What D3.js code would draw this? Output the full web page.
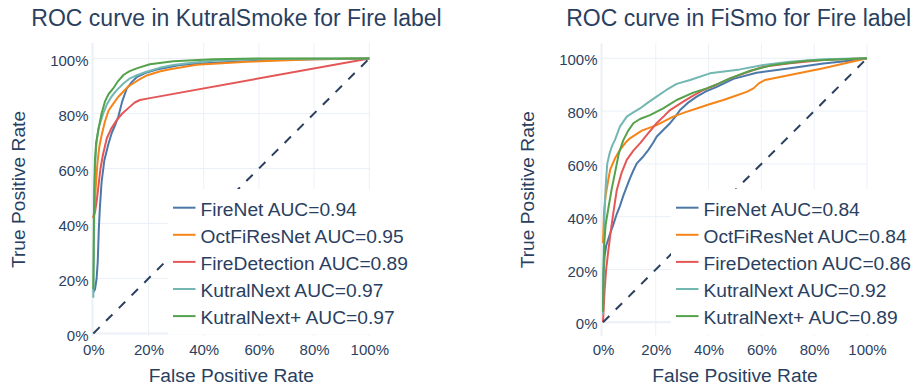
<!DOCTYPE html>
<html>
<head>
<meta charset="utf-8">
<script src="https://cdn.jsdelivr.net/npm/d3@7"></script>
<style>
  html, body { margin: 0; padding: 0; background: #fff; }
  svg { display: block; }
  text { font-family: "Liberation Sans", Arial, sans-serif; fill: #2a3f5f; }
</style>
</head>
<body>
<svg id="chart" width="914" height="390"></svg>
<script>
// ---------------- DATA ----------------
const models = ["FireNet", "OctFiResNet", "FireDetection", "KutralNext", "KutralNext+"];
const colors = ["#4C78A8", "#F58518", "#E45756", "#72B7B2", "#54A24B"];
const tickValues = [0, 0.2, 0.4, 0.6, 0.8, 1];
const tickLabels = ["0%", "20%", "40%", "60%", "80%", "100%"];

const titles = ["ROC curve in KutralSmoke for Fire label", "ROC curve in FiSmo for Fire label"];
const xTitle = "False Positive Rate";
const yTitle = "True Positive Rate";

const aucKutralSmoke = [0.94, 0.95, 0.89, 0.97, 0.97];
const aucFiSmo = [0.84, 0.84, 0.86, 0.92, 0.89];

// KutralSmoke ROC points [fpr, tpr]
const ksFireNet = [[0,0.15],[0.006,0.16],[0.012,0.2],[0.016,0.26],[0.02,0.38],[0.024,0.46],[0.03,0.55],[0.04,0.63],[0.055,0.69],[0.067,0.73],[0.08,0.76],[0.091,0.79],[0.105,0.845],[0.121,0.89],[0.14,0.915],[0.157,0.932],[0.19,0.948],[0.23,0.96],[0.314,0.976],[0.435,0.985],[0.676,0.995],[1,1]];
const ksOctFiResNet = [[0,0.42],[0.005,0.46],[0.01,0.55],[0.015,0.62],[0.022,0.68],[0.03,0.72],[0.042,0.77],[0.055,0.81],[0.072,0.835],[0.09,0.86],[0.109,0.88],[0.125,0.897],[0.145,0.91],[0.17,0.926],[0.193,0.938],[0.24,0.953],[0.278,0.961],[0.375,0.977],[0.556,0.988],[0.8,0.997],[1,1]];
const ksFireDetection = [[0,0.42],[0.006,0.44],[0.012,0.48],[0.018,0.53],[0.026,0.6],[0.035,0.65],[0.049,0.71],[0.065,0.745],[0.085,0.776],[0.105,0.8],[0.133,0.825],[0.15,0.84],[0.169,0.849],[0.2,0.855],[1,1]];
const ksKutralNext = [[0,0.13],[0.002,0.3],[0.004,0.5],[0.007,0.62],[0.012,0.7],[0.02,0.75],[0.036,0.8],[0.05,0.835],[0.065,0.86],[0.085,0.885],[0.11,0.91],[0.133,0.928],[0.16,0.94],[0.193,0.952],[0.24,0.966],[0.29,0.976],[0.35,0.984],[0.435,0.992],[0.616,0.998],[1,1]];
const ksKutralNextPlus = [[0,0.16],[0.002,0.4],[0.004,0.55],[0.006,0.63],[0.01,0.69],[0.018,0.74],[0.03,0.8],[0.042,0.843],[0.055,0.87],[0.072,0.891],[0.09,0.918],[0.109,0.94],[0.13,0.953],[0.157,0.964],[0.205,0.979],[0.29,0.99],[0.435,0.997],[0.6,1],[1,1]];

// FiSmo ROC points [fpr, tpr]
const fsFireNet = [[0,0.05],[0.002,0.18],[0.006,0.25],[0.012,0.29],[0.025,0.33],[0.039,0.37],[0.052,0.41],[0.064,0.44],[0.077,0.48],[0.09,0.514],[0.102,0.545],[0.115,0.575],[0.128,0.602],[0.15,0.625],[0.172,0.653],[0.19,0.68],[0.203,0.703],[0.23,0.73],[0.254,0.754],[0.275,0.78],[0.292,0.804],[0.32,0.83],[0.355,0.855],[0.39,0.875],[0.431,0.892],[0.494,0.922],[0.582,0.945],[0.708,0.962],[0.835,0.98],[0.961,0.994],[1,1]];
const fsOctFiResNet = [[0,0.3],[0.004,0.42],[0.01,0.48],[0.02,0.54],[0.027,0.577],[0.045,0.62],[0.064,0.653],[0.085,0.68],[0.102,0.697],[0.147,0.726],[0.203,0.747],[0.266,0.779],[0.31,0.795],[0.355,0.81],[0.4,0.825],[0.456,0.842],[0.5,0.857],[0.544,0.873],[0.57,0.886],[0.59,0.905],[0.614,0.918],[0.708,0.937],[0.835,0.962],[1,1]];
const fsFireDetection = [[0,0],[0.002,0.04],[0.006,0.12],[0.012,0.2],[0.02,0.27],[0.03,0.35],[0.04,0.42],[0.052,0.5],[0.07,0.565],[0.09,0.615],[0.115,0.65],[0.14,0.678],[0.17,0.715],[0.203,0.754],[0.23,0.78],[0.254,0.804],[0.304,0.836],[0.34,0.858],[0.38,0.88],[0.43,0.9],[0.481,0.924],[0.54,0.945],[0.607,0.968],[0.708,0.981],[0.833,0.994],[1,1]];
const fsKutralNext = [[0,0.03],[0.002,0.2],[0.004,0.33],[0.007,0.45],[0.011,0.53],[0.016,0.6],[0.025,0.64],[0.035,0.67],[0.045,0.69],[0.064,0.741],[0.09,0.779],[0.115,0.795],[0.14,0.81],[0.17,0.832],[0.203,0.855],[0.24,0.88],[0.279,0.903],[0.33,0.918],[0.405,0.943],[0.519,0.958],[0.607,0.975],[0.708,0.987],[0.835,0.996],[1,1]];
const fsKutralNextPlus = [[0,0.04],[0.002,0.2],[0.005,0.3],[0.01,0.37],[0.02,0.43],[0.032,0.5],[0.045,0.564],[0.06,0.64],[0.077,0.69],[0.095,0.725],[0.115,0.754],[0.14,0.77],[0.178,0.785],[0.228,0.81],[0.279,0.842],[0.342,0.87],[0.393,0.886],[0.44,0.905],[0.481,0.924],[0.557,0.953],[0.645,0.975],[0.772,0.991],[1,1]];

const chanceLine = [[0,0],[1,1]];

// ---------------- LAYOUT ----------------
const charts = [
  { title: titles[0], titleX: 236.5, series: [ksFireNet, ksOctFiResNet, ksFireDetection, ksKutralNext, ksKutralNextPlus], auc: aucKutralSmoke,
    x0: 93.3, x1: 369.3, y0: 333.5, y1: 58.5, top: 43, bottom: 336, left: 92.5, right: 370,
    yLabelX: 88.5, yTitleX: 24.5, legX: 168, legW: 250 },
  { title: titles[1], titleX: 738.7, series: [fsFireNet, fsOctFiResNet, fsFireDetection, fsKutralNext, fsKutralNextPlus], auc: aucFiSmo,
    x0: 603, x1: 867, y0: 322.3, y1: 58.3, top: 43.5, bottom: 336, left: 601.5, right: 867,
    yLabelX: 597.5, yTitleX: 533.5, legX: 671, legW: 243 }
];

const svg = d3.select("#chart");
const grid = "#EBF0F8";

charts.forEach(c => {
  const x = d3.scaleLinear().domain([0, 1]).range([c.x0, c.x1]);
  const y = d3.scaleLinear().domain([0, 1]).range([c.y0, c.y1]);
  const g = svg.append("g");

  // grid
  g.selectAll(".vg").data(tickValues.slice(1)).join("line")
    .attr("x1", d => x(d)).attr("x2", d => x(d)).attr("y1", c.top).attr("y2", c.bottom)
    .attr("stroke", grid).attr("stroke-width", 1);
  g.selectAll(".hg").data(tickValues).join("line")
    .attr("x1", c.left).attr("x2", c.right).attr("y1", d => y(d)).attr("y2", d => y(d))
    .attr("stroke", grid).attr("stroke-width", d => d === 0 ? 2 : 1);
  // axis lines
  g.append("line").attr("x1", c.left).attr("x2", c.left).attr("y1", c.top).attr("y2", c.bottom)
    .attr("stroke", grid).attr("stroke-width", 2);

  // tick labels
  const xAxis = d3.axisBottom(x).tickValues(tickValues).tickFormat((d, i) => tickLabels[i]).tickSize(0).tickPadding(0);
  const xa = g.append("g").attr("transform", `translate(0,${c.bottom})`).call(xAxis);
  xa.select(".domain").remove();
  xa.selectAll("text").attr("dy", null).attr("y", 19).attr("font-size", 15)
    .style("font-family", '"Liberation Sans", Arial, sans-serif').attr("fill", "#2a3f5f");

  const yAxis = d3.axisLeft(y).tickValues(tickValues).tickFormat((d, i) => tickLabels[i]).tickSize(0).tickPadding(0);
  const ya = g.append("g").attr("transform", `translate(${c.yLabelX},0)`).call(yAxis);
  ya.select(".domain").remove();
  ya.selectAll("text").attr("dy", null).attr("x", 0).attr("y", 6.6).attr("font-size", 15)
    .style("font-family", '"Liberation Sans", Arial, sans-serif').attr("fill", "#2a3f5f");

  // curves
  const line = d3.line().x(d => x(d[0])).y(d => y(d[1]));
  c.series.forEach((s, i) => {
    g.append("path").attr("d", line(s)).attr("fill", "none")
      .attr("stroke", colors[i]).attr("stroke-width", 2).attr("stroke-linejoin", "round");
  });

  // chance line
  g.append("path").attr("d", line(chanceLine)).attr("fill", "none")
    .attr("stroke", "#2a3f5f").attr("stroke-width", 2).attr("stroke-dasharray", "9,9");

  // legend
  const lg = g.append("g");
  const legTop = 189, rowH = 27.1, firstBase = 215.7;
  lg.append("rect").attr("x", c.legX).attr("y", legTop).attr("width", c.legW).attr("height", 145.5).attr("fill", "#fff");
  models.forEach((m, i) => {
    const base = firstBase + i * rowH;
    lg.append("line").attr("x1", c.legX + 5).attr("x2", c.legX + 27.5)
      .attr("y1", base - 8).attr("y2", base - 8).attr("stroke", colors[i]).attr("stroke-width", 2);
    lg.append("text").attr("x", c.legX + 32.5).attr("y", base).attr("font-size", 19.2)
      .text(`${m} AUC=${c.auc[i].toFixed(2)}`);
  });

  // titles
  g.append("text").attr("x", c.titleX).attr("y", 25.5).attr("text-anchor", "middle").attr("font-size", 23).text(c.title);
  g.append("text").attr("x", (c.x0 + c.x1) / 2).attr("y", 382).attr("text-anchor", "middle").attr("font-size", 19.2).text(xTitle);
  g.append("text").attr("transform", `translate(${c.yTitleX},${(c.top + c.bottom) / 2}) rotate(-90)`)
    .attr("text-anchor", "middle").attr("font-size", 19.2).text(yTitle);
});
</script>
</body>
</html>
